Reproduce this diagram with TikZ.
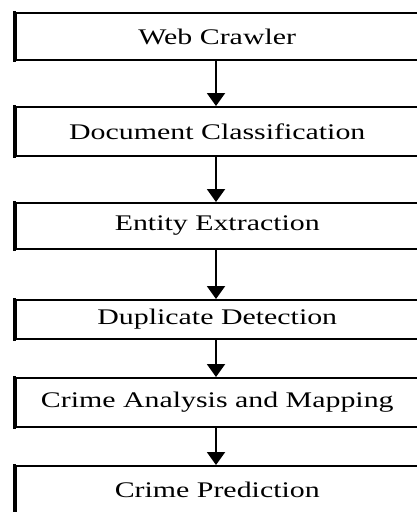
\documentclass[tikz,border=0pt]{standalone}
\usepackage{fontspec}
\newfontfamily\boxfont[FakeStretch=1.34]{Liberation Serif}
\usetikzlibrary{arrows.meta}
\tikzset{
  stage/.style={draw=black, line width=2pt, fill=white, minimum width=403.5pt,
    inner sep=0pt, font=\boxfont\fontsize{22.3}{26}\selectfont},
  flow/.style={draw=black, line width=2pt, -{Triangle[width=18pt,length=13pt]}},
  side/.style={draw=black, line width=3.5pt}
}
\begin{document}
\begin{tikzpicture}[x=1pt,y=1pt]
  \clip (0,0) rectangle (417,-512);
  \fill[white] (0,0) rectangle (417,-512);
  \node[stage, minimum height=47pt] (crawl)   at (217.25,-36.5) {Web Crawler};
  \node[stage, minimum height=49pt] (classify) at (217.25,-131.5) {Document Classification};
  \node[stage, minimum height=46pt] (extract) at (217.25,-226) {Entity Extraction};
  \node[stage, minimum height=39pt] (dedup)   at (217.25,-319.5) {Duplicate Detection};
  \node[stage, minimum height=49pt] (analyse) at (217.25,-402.5) {Crime Analysis and Mapping};
  \node[stage, minimum height=48pt] (predict) at (217.25,-490) {Crime Prediction};
  % heavier left sides of the boxes
  \foreach \b in {crawl,classify,extract,dedup,analyse,predict}
    \draw[side] ([yshift=1pt]\b.north west) -- ([yshift=-1pt]\b.south west);
  \draw[flow] (crawl.south -| 216,0) -- (classify.north -| 216,0);
  \draw[flow] (classify.south -| 216,0) -- (extract.north -| 216,0);
  \draw[flow] (extract.south -| 216,0) -- (dedup.north -| 216,0);
  \draw[flow] (dedup.south -| 216,0) -- (analyse.north -| 216,0);
  \draw[flow] (analyse.south -| 216,0) -- (predict.north -| 216,0);
\end{tikzpicture}
\end{document}
